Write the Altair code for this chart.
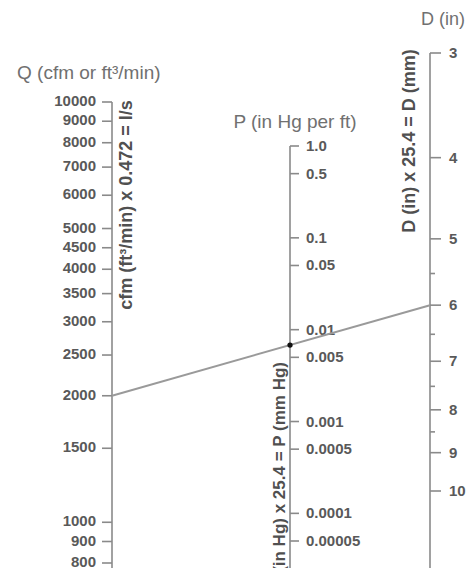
import math
import altair as alt
import pandas as pd

# ---- data ----
Q_TICKS = [10000, 9000, 8000, 7000, 6000, 5000, 4500, 4000, 3500, 3000, 2500, 2000, 1500, 1000, 900, 800]
Q_LABELS = [str(v) for v in Q_TICKS]

P_TICKS = [1.0, 0.5, 0.1, 0.05, 0.01, 0.005, 0.001, 0.0005, 0.0001, 0.00005]
P_LABELS = ["1.0", "0.5", "0.1", "0.05", "0.01", "0.005", "0.001", "0.0005", "0.0001", "0.00005"]

D_MAJOR = [3, 4, 5, 6, 7, 8, 9, 10]
D_LABELS = [str(v) for v in D_MAJOR]
D_MINOR = [5.5, 6.5, 7.5, 8.5]

LINE_Q = 2000      # cfm
LINE_D = 6         # in
LINE_P = 0.0068    # in Hg per ft (read where the line crosses P)

# ---- scale layout (log scales, one per nomogram axis) ----
Q_DOM, Q_RNG = [800, 10000], [555, 94]
P_DOM, P_RNG = [0.00005, 1.0], [533, 138]
D_DOM, D_RNG = [3, 10], [45, 483]

def log_scale(dom, rng):
    return alt.Scale(type="log", domain=dom, range=rng, nice=False)

def to_px(v, dom, rng):
    t = (math.log10(v) - math.log10(dom[0])) / (math.log10(dom[1]) - math.log10(dom[0]))
    return rng[0] + t * (rng[1] - rng[0])

def from_px(px, dom, rng):
    t = (px - rng[0]) / (rng[1] - rng[0])
    return 10 ** (math.log10(dom[0]) + t * (math.log10(dom[1]) - math.log10(dom[0])))

# the D end of the reading line, expressed on the Q scale
Q_AT_D = from_px(to_px(LINE_D, D_DOM, D_RNG), Q_DOM, Q_RNG)

QX, PX, DX = 104, 282, 422
FONT = "Liberation Sans"
AXIS_C = "#8a8a8a"
LABEL_C = "#595959"
TITLE_C = "#707070"
ROT_C = "#505050"

def yQ(field="v"):
    return alt.Y(f"{field}:Q", scale=log_scale(Q_DOM, Q_RNG), axis=None)

def yP(field="v"):
    return alt.Y(f"{field}:Q", scale=log_scale(P_DOM, P_RNG), axis=None)

def yD(field="v"):
    return alt.Y(f"{field}:Q", scale=log_scale(D_DOM, D_RNG), axis=None)

q_df = pd.DataFrame({"v": Q_TICKS, "label": Q_LABELS})
p_df = pd.DataFrame({"v": P_TICKS, "label": P_LABELS})
d_df = pd.DataFrame({"v": D_MAJOR, "label": D_LABELS})
dm_df = pd.DataFrame({"v": D_MINOR})

layers = []

# Q axis
layers.append(alt.Chart(pd.DataFrame({"v": [Q_TICKS[0]], "v2": [500]})).mark_rule(
    color=AXIS_C, strokeWidth=1.6, clip=True).encode(x=alt.value(QX), y=yQ(), y2="v2:Q"))
layers.append(alt.Chart(q_df).mark_rule(color=AXIS_C, strokeWidth=1.6).encode(
    x=alt.value(QX - 10), x2=alt.value(QX), y=yQ()))
layers.append(alt.Chart(q_df).mark_text(
    align="right", baseline="middle", fontSize=15, fontWeight="bold", color=LABEL_C, font=FONT, dy=-1
).encode(x=alt.value(QX - 16), y=yQ(), text="label:N"))

# P axis
layers.append(alt.Chart(pd.DataFrame({"v": [P_TICKS[0]], "v2": [0.000005]})).mark_rule(
    color=AXIS_C, strokeWidth=1.6, clip=True).encode(x=alt.value(PX), y=yP(), y2="v2:Q"))
layers.append(alt.Chart(p_df).mark_rule(color=AXIS_C, strokeWidth=1.6).encode(
    x=alt.value(PX), x2=alt.value(PX + 9), y=yP()))
layers.append(alt.Chart(p_df).mark_text(
    align="left", baseline="middle", fontSize=15, fontWeight="bold", color=LABEL_C, font=FONT
).encode(x=alt.value(PX + 16), y=yP(), text="label:N"))

# D axis
layers.append(alt.Chart(pd.DataFrame({"v": [D_MAJOR[0]], "v2": [20]})).mark_rule(
    color=AXIS_C, strokeWidth=1.6, clip=True).encode(x=alt.value(DX), y=yD(), y2="v2:Q"))
layers.append(alt.Chart(d_df).mark_rule(color=AXIS_C, strokeWidth=1.6).encode(
    x=alt.value(DX), x2=alt.value(DX + 11), y=yD()))
layers.append(alt.Chart(dm_df).mark_rule(color=AXIS_C, strokeWidth=1.6).encode(
    x=alt.value(DX), x2=alt.value(DX + 5), y=yD()))
layers.append(alt.Chart(d_df).mark_text(
    align="left", baseline="middle", fontSize=15, fontWeight="bold", color=LABEL_C, font=FONT
).encode(x=alt.value(DX + 19), y=yD(), text="label:N"))

# reading line Q=2000 -> D=6, with the point where it crosses P
layers.append(alt.Chart(pd.DataFrame({"v": [LINE_Q], "v2": [Q_AT_D]})).mark_rule(
    color="#9a9a9a", strokeWidth=2).encode(
    x=alt.value(QX), x2=alt.value(DX), y=yQ(), y2="v2:Q"))
layers.append(alt.Chart(pd.DataFrame({"v": [LINE_P]})).mark_point(
    filled=True, size=28, color="#111111", opacity=1).encode(x=alt.value(PX), y=yP()))

# titles
def text_layer(txt, x, y, **kw):
    return alt.Chart(pd.DataFrame({"t": [txt]})).mark_text(font=FONT, **kw).encode(
        x=alt.value(x), y=alt.value(y), text="t:N")

layers.append(text_layer("Q (cfm or ft³/min)", 9, 65, align="left", baseline="middle",
                         fontSize=19, color=TITLE_C))
layers.append(text_layer("P (in Hg per ft)", 287, 114, align="center", baseline="middle",
                         fontSize=19, color=TITLE_C))
layers.append(text_layer("D (in)", 413, 12, align="left", baseline="middle",
                         fontSize=18, color=TITLE_C))

# rotated conversion notes
layers.append(text_layer("cfm (ft³/min) x 0.472 = l/s", 119, 197, align="center", baseline="middle",
                         fontSize=18, fontWeight="bold", color=ROT_C, angle=270))
layers.append(text_layer("D (in) x 25.4 = D (mm)", 402, 133, align="center", baseline="middle",
                         fontSize=18, fontWeight="bold", color=ROT_C, angle=270))
layers.append(text_layer("P (in Hg) x 25.4 = P (mm Hg)", 272, 354, align="right", baseline="middle",
                         fontSize=17, fontWeight="bold", color=ROT_C, angle=270, clip=True))

chart = alt.layer(*layers).resolve_scale(y="independent").properties(
    width=460, height=560, autosize=alt.AutoSizeParams(type="none"), padding=0
).configure_view(stroke=None)

chart.save("out.html", embed_options={"renderer": "svg", "actions": False})
